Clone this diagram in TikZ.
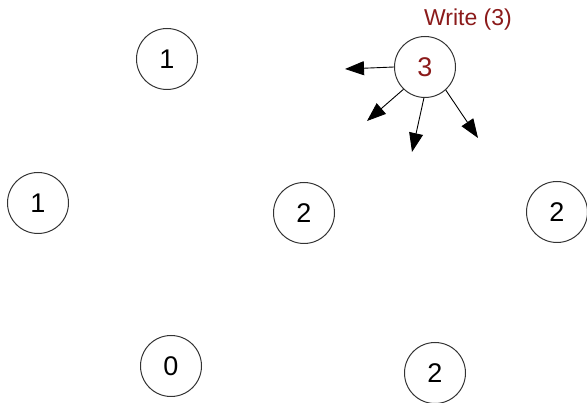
\documentclass[tikz,border=0pt]{standalone}
\usepackage{fontspec}
\setmainfont{Liberation Sans}
\usetikzlibrary{arrows.meta}
\definecolor{writered}{HTML}{8B1A1A}
\begin{document}
\begin{tikzpicture}[x=1pt,y=-1pt,
  vertex/.style={circle,draw=black!80,line width=1pt,minimum size=61pt,inner sep=0pt,
    font=\fontsize{27}{30}\selectfont},
  push/.style={-{Triangle[length=19pt,width=14pt]},line width=0.9pt,black}]
\useasboundingbox (0,0) rectangle (587,403);
% vertices with their current values
\node[vertex] (top)    at (167,59)  {1};
\node[vertex] (left)   at (38,203)  {1};
\node[vertex] (mid)    at (304,213) {2};
\node[vertex] (right)  at (557,212) {2};
\node[vertex] (bottom) at (171,366) {0};
\node[vertex] (low)    at (435,373) {2};
\node[vertex,text=writered] (w) at (425,67) {3};
% label of the writing vertex
\node[text=writered,font=\fontsize{23}{26}\selectfont] (lbl) at (468,20) {Write (3)};
% outgoing messages
\coordinate (t1) at (345,69);
\coordinate (t2) at (367,121);
\coordinate (t3) at (412,152);
\coordinate (t4) at (478,138);
\draw[push] (w.180) -- (t1);
\draw[push] (w.226) -- (t2);
\draw[push] (w.268) -- (t3);
\draw[push] (w.312) -- (t4);
\end{tikzpicture}
\end{document}
